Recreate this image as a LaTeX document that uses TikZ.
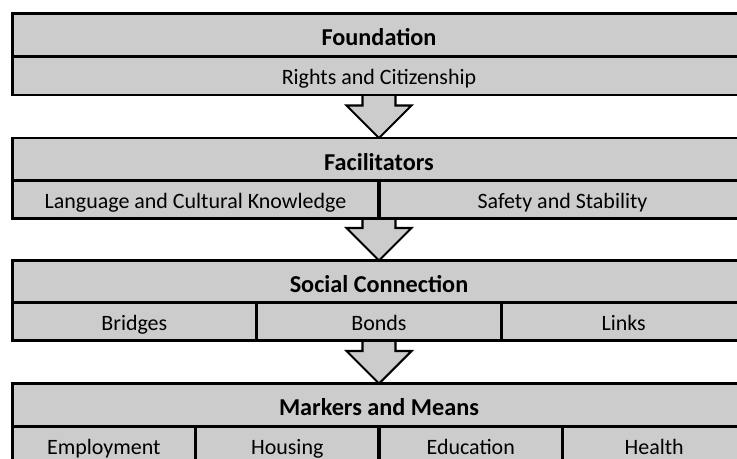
\documentclass[tikz,border=0pt]{standalone}
\usepackage{fontspec}
\setmainfont{Carlito}
\usepackage{xcolor}
\usepackage{tikz}
\usetikzlibrary{calc,backgrounds}

\definecolor{boxgray}{HTML}{CCCCCC}

\begin{document}
\begin{tikzpicture}[x=0.02cm, y=-0.02cm,
    cell/.style={draw=black, fill=boxgray, line width=1.7pt, inner sep=0pt, outer sep=0pt,
                 text height=12pt, text depth=2pt, font=\fontsize{12.5}{15}\selectfont},
    head/.style={cell, minimum width=14.68cm, minimum height=0.86cm, text height=14.3pt,
                 font=\fontsize{13.8}{16}\selectfont\bfseries},
    half/.style={cell, minimum width=7.34cm, minimum height=0.76cm},
    third/.style={cell, minimum width=4.8933cm, minimum height=0.76cm},
    quart/.style={cell, minimum width=3.67cm, minimum height=0.76cm},
    blockarrow/.style={draw=black, fill=boxgray, line width=1.2pt, line join=miter}]
  \useasboundingbox (0,0) rectangle (737,459);
  \clip (0,0) rectangle (737,459);

  % foundation
  \node[head] (found) at (379, 35) {Foundation};
  \node[cell, minimum width=14.68cm, minimum height=0.76cm] (rights) at (379, 76) {Rights and Citizenship};

  % facilitators
  \node[head] (fac) at (379, 159.5) {Facilitators};
  \node[half] (lang) at (195.5, 199.5) {Language and Cultural Knowledge};
  \node[half] (safe) at (562.5, 199.5) {Safety and Stability};

  % social connection
  \node[head] (soc) at (379, 282) {Social Connection};
  \node[third] (bridges) at (134.33, 321.5) {Bridges};
  \node[third] (bonds) at (379, 321.5) {Bonds};
  \node[third] (links) at (623.67, 321.5) {Links};

  % markers and means
  \node[head] (mark) at (379, 405) {Markers and Means};
  \node[quart] (employ) at (103.75, 446) {Employment};
  \node[quart] (housing) at (287.25, 446) {Housing};
  \node[quart] (educ) at (470.75, 446) {Education};
  \node[quart] (health) at (654.25, 446) {Health};

  % arrows between the levels
  \begin{scope}[on background layer]
    \foreach \b in {fac, soc, mark}
      \filldraw[blockarrow] ($(\b.north)+(-16.5,-44)$) -- ++(0,11.5) -- ++(-16,0) -- (\b.north)
        -- ++(32.5,-32.5) -- ++(-16,0) -- ++(0,-11.5);
  \end{scope}
\end{tikzpicture}
\end{document}
